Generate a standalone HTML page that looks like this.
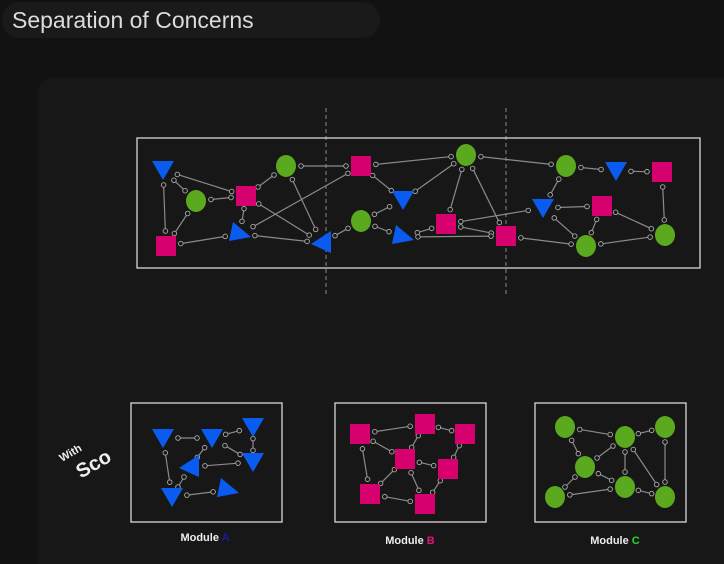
<!DOCTYPE html>
<html><head><meta charset="utf-8">
<style>
html,body{margin:0;padding:0;background:#121212;width:724px;height:564px;overflow:hidden}
svg{display:block}
</style></head>
<body>
<svg id="svg" width="724" height="564" xmlns="http://www.w3.org/2000/svg">
  <rect x="0" y="0" width="724" height="564" fill="#121212"/>
  <rect x="2" y="2" width="378" height="36" rx="18" fill="#1a1a1a"/>
  <text x="12" y="28" font-family="Liberation Sans, sans-serif" font-size="23" fill="#dcdcdc">Separation of Concerns</text>
  <rect x="38" y="77" width="720" height="500" rx="16" fill="#171717"/>
  <line x1="326" y1="108" x2="326" y2="297" stroke="#888" stroke-dasharray="4,3" stroke-width="1"/>
  <line x1="506" y1="108" x2="506" y2="297" stroke="#888" stroke-dasharray="4,3" stroke-width="1"/>
  <rect x="137" y="138" width="563" height="130" fill="none" stroke="#d8d8d8" stroke-width="1.3"/>
  <rect x="131" y="403" width="151" height="119" fill="none" stroke="#d8d8d8" stroke-width="1.3"/>
  <rect x="335" y="403" width="151" height="119" fill="none" stroke="#d8d8d8" stroke-width="1.3"/>
  <rect x="535" y="403" width="151" height="119" fill="none" stroke="#d8d8d8" stroke-width="1.3"/>
  <g id="edges"></g>
  <g id="nodes"></g>
  <text x="205" y="541" text-anchor="middle" font-family="Liberation Sans, sans-serif" font-weight="bold" font-size="11" fill="#eee">Module <tspan fill="#1a1aa8">A</tspan></text>
  <text x="410" y="544" text-anchor="middle" font-family="Liberation Sans, sans-serif" font-weight="bold" font-size="11" fill="#eee">Module <tspan fill="#e0157a">B</tspan></text>
  <text x="615" y="544" text-anchor="middle" font-family="Liberation Sans, sans-serif" font-weight="bold" font-size="11" fill="#eee">Module <tspan fill="#22dd22">C</tspan></text>
  <g transform="translate(62,462) rotate(-30)">
    <text x="0" y="0" font-family="Liberation Sans, sans-serif" font-weight="bold" font-size="11" fill="#eee">With</text>
    <text x="8" y="24" font-family="Liberation Sans, sans-serif" font-weight="bold" font-size="20" fill="#eee">Sco</text>
  </g>
</svg>
<script>
// node kinds: t=triangle down, l=triangle left, r=triangle right, s=square, c=circle
const topKinds = ['t','c','s','c','s','r','l','s','c','t','c','s','r','s','c','t','s','t','s','c','c'];
const topX = [163,196,166,286,246,240,322,361,361,403,466,446,403,506,566,616,662,543,602,586,665];
const topY = [170,201,246,166,196,234,243,166,221,200,155,224,237,236,166,171,172,208,206,246,235];
const topLinks = [[0,4],[0,1],[0,2],[1,4],[1,2],[2,5],[3,4],[3,7],[3,6],[4,5],[4,6],[5,7],[5,6],[6,8],[7,10],[7,9],[8,9],[8,12],[9,10],[10,11],[10,13],[10,14],[11,12],[11,13],[11,17],[12,13],[13,19],[14,15],[14,17],[15,16],[16,20],[17,18],[17,19],[18,19],[18,20],[19,20]];

const aKinds = ['t','t','t','t','l','t','r'];
const aX = [163,212,253,253,190,172,228];
const aY = [438,438,427,462,467,497,490];
const aLinks = [[0,1],[0,5],[1,2],[1,3],[4,3],[5,6],[2,3],[1,4],[4,5]];

const bKinds = ['s','s','s','s','s','s','s'];
const bX = [360,425,465,405,448,370,425];
const bY = [434,424,434,459,469,494,504];
const bLinks = [[0,1],[1,2],[0,3],[3,4],[0,5],[3,5],[3,6],[5,6],[4,6],[1,3],[2,4]];

const cKinds = ['c','c','c','c','c','c','c'];
const cX = [565,625,665,585,625,555,665];
const cY = [427,437,427,467,487,497,497];
const cLinks = [[0,1],[1,2],[0,3],[1,3],[1,4],[1,6],[2,6],[3,4],[3,5],[5,4],[4,6]];

const NS = 'http://www.w3.org/2000/svg';
const edgesG = document.getElementById('edges');
const nodesG = document.getElementById('nodes');
const COL = {t:'#0a5cf0',l:'#0a5cf0',r:'#0a5cf0',s:'#d6006f',c:'#5aa91e'};

function mk(tag, attrs){ const e=document.createElementNS(NS,tag); for(const k in attrs) e.setAttribute(k,attrs[k]); return e; }

function drawNode(kind,x,y,grp,i){
  let e;
  if(kind==='c') e = mk('ellipse',{cx:x,cy:y,rx:10,ry:11});
  else if(kind==='s') e = mk('rect',{x:x-10,y:y-10,width:20,height:20});
  else if(kind==='t') e = mk('polygon',{points:`${x-11},${y-9} ${x+11},${y-9} ${x},${y+10}`});
  else if(kind==='l') e = mk('polygon',{points:`${x+9},${y-12} ${x+9},${y+10} ${x-11},${y+1}`});
  else e = mk('polygon',{points:`${x-7},${y-12} ${x+11},${y+3} ${x-11},${y+7}`});
  e.setAttribute('fill',COL[kind]);
  
  
  nodesG.appendChild(e);
}
function drawLink(x1,y1,x2,y2,grp,i){
  const dx=x2-x1, dy=y2-y1, d=Math.hypot(dx,dy)||1, ux=dx/d, uy=dy/d, o=Math.min(15,d/3);
  const ax=x1+ux*o, ay=y1+uy*o, bx=x2-ux*o, by=y2-uy*o;
  const g=mk('g',{});
  
  
  g.appendChild(mk('line',{x1:ax,y1:ay,x2:bx,y2:by,stroke:'#8a8a8a','stroke-width':1.2}));
  g.appendChild(mk('circle',{cx:ax,cy:ay,r:2.3,fill:'#171717',stroke:'#aaa','stroke-width':0.9}));
  g.appendChild(mk('circle',{cx:bx,cy:by,r:2.3,fill:'#171717',stroke:'#aaa','stroke-width':0.9}));
  edgesG.appendChild(g);
}
function drawGraph(kinds,X,Y,links,grp){
  links.forEach((p,i)=>drawLink(X[p[0]],Y[p[0]],X[p[1]],Y[p[1]],grp,i));
  kinds.forEach((k,i)=>drawNode(k,X[i],Y[i],grp,i));
}
drawGraph(topKinds,topX,topY,topLinks,'monolith');
drawGraph(aKinds,aX,aY,aLinks,'module-a');
drawGraph(bKinds,bX,bY,bLinks,'module-b');
drawGraph(cKinds,cX,cY,cLinks,'module-c');
</script>
</body></html>
